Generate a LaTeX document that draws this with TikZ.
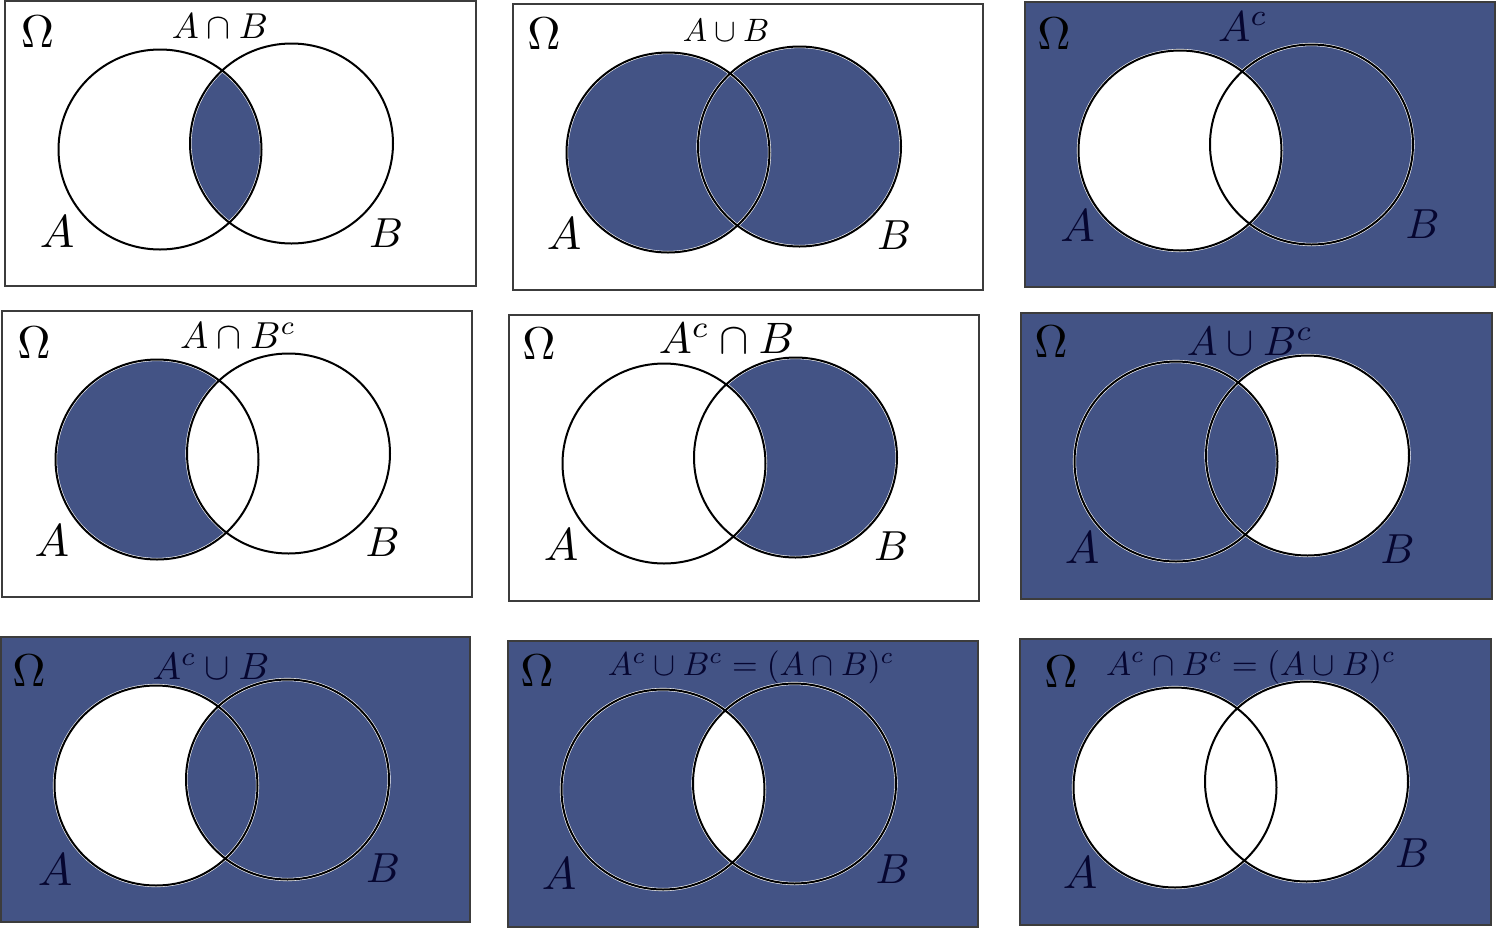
\documentclass[tikz,border=0pt]{standalone}
\usepackage{graphicx}
\definecolor{sh}{RGB}{67,83,133}
\definecolor{navy}{RGB}{6,6,48}
\definecolor{framec}{RGB}{60,60,60}
\newcommand\vsz[2]{\scalebox{#1}{#2}}
\newcommand\setA{(155,148.5) ellipse [x radius=101.5, y radius=100]}
\newcommand\setB{(286.5,142.5) ellipse [x radius=101.5, y radius=100]}
\tikzset{
  shade/.style={fill=sh},
  blank/.style={fill=white},
  halo/.style={draw=white, line width=1.6pt},
  ring/.style={draw=black, line width=1pt},
  frame/.style={draw=framec, line width=0.6pt},
  lbl/.style={anchor=base, inner sep=0pt, outer sep=0pt},
  om/.style={lbl, text=black},
}
\begin{document}
\begin{tikzpicture}[x=0.5pt, y=-0.5pt]
\useasboundingbox (0,0) rectangle (1496,928);
\fill[white] (0,0) rectangle (1496,928);

% ---------- Panel 1: A cap B ----------
\begin{scope}[shift={(5,1)}]
  \begin{scope}\clip \setA; \fill[shade] \setB; \end{scope}
  \draw[halo] \setA \setB; \draw[ring] \setA \setB;
  \draw[frame] (0,0) rectangle (471,285);
\end{scope}
\node[om] (om1) at (37.5,47) {\vsz{2.3}{$\Omega$}};
\node[lbl] (t1) at (220,38) {\vsz{1.8}{$A\cap B$}};
\node[lbl] (a1) at (57,247) {\vsz{2.3}{$A$}};
\node[lbl] (b1) at (386,247) {\vsz{2.1}{$B$}};

% ---------- Panel 2: A cup B ----------
\begin{scope}[shift={(513,4)}]
  \fill[shade] \setA; \fill[shade] \setB;
  \draw[halo] \setA \setB; \draw[ring] \setA \setB;
  \draw[frame] (0,0) rectangle (470,286);
\end{scope}
\node[om] (om2) at (544,49) {\vsz{2.3}{$\Omega$}};
\node[lbl] (t2) at (726,41) {\vsz{1.62}{$A\cup B$}};
\node[lbl] (a2) at (564,249) {\vsz{2.3}{$A$}};
\node[lbl] (b2) at (894,249) {\vsz{2.1}{$B$}};

% ---------- Panel 3: A^c ----------
\begin{scope}[shift={(1025,2)}]
  \fill[shade] (0,0) rectangle (470,285);
  \fill[blank] \setA;
  \draw[halo] \setA \setB; \draw[ring] \setA \setB;
  \draw[frame] (0,0) rectangle (470,285);
\end{scope}
\node[om] (om3) at (1054,49) {\vsz{2.3}{$\Omega$}};
\node[lbl, text=navy] (t3) at (1243,41) {\vsz{2.15}{$A^c$}};
\node[lbl, text=navy] (a3) at (1077.5,241) {\vsz{2.3}{$A$}};
\node[lbl, text=navy] (b3) at (1422.5,238) {\vsz{2.1}{$B$}};

% ---------- Panel 4: A cap B^c ----------
\begin{scope}[shift={(2,311)}]
  \fill[shade] \setA;
  \begin{scope}\clip \setA; \fill[blank] \setB; \end{scope}
  \draw[halo] \setA \setB; \draw[ring] \setA \setB;
  \draw[frame] (0,0) rectangle (470,286);
\end{scope}
\node[om] (om4) at (34,358) {\vsz{2.3}{$\Omega$}};
\node[lbl] (t4) at (238,348) {\vsz{1.88}{$A\cap B^c$}};
\node[lbl] (a4) at (52,556) {\vsz{2.3}{$A$}};
\node[lbl] (b4) at (382.5,556) {\vsz{2.1}{$B$}};

% ---------- Panel 5: A^c cap B ----------
\begin{scope}[shift={(509,315)}]
  \fill[shade] \setB;
  \begin{scope}\clip \setB; \fill[blank] \setA; \end{scope}
  \draw[halo] \setA \setB; \draw[ring] \setA \setB;
  \draw[frame] (0,0) rectangle (470,286);
\end{scope}
\node[om] (om5) at (539,359) {\vsz{2.3}{$\Omega$}};
\node[lbl] (t5) at (726.5,353) {\vsz{2.2}{$A^c\cap B$}};
\node[lbl] (a5) at (561,560) {\vsz{2.3}{$A$}};
\node[lbl] (b5) at (891,560) {\vsz{2.1}{$B$}};

% ---------- Panel 6: A cup B^c ----------
\begin{scope}[shift={(1021,313)}]
  \fill[shade] (0,0) rectangle (471,286);
  \fill[blank] \setB;
  \begin{scope}\clip \setB; \fill[shade] \setA; \end{scope}
  \draw[halo] \setA \setB; \draw[ring] \setA \setB;
  \draw[frame] (0,0) rectangle (471,286);
\end{scope}
\node[om] (om6) at (1051,357) {\vsz{2.3}{$\Omega$}};
\node[lbl, text=navy] (t6) at (1250,355) {\vsz{2.05}{$A\cup B^c$}};
\node[lbl, text=navy] (a6) at (1082,563) {\vsz{2.3}{$A$}};
\node[lbl, text=navy] (b6) at (1397.5,563) {\vsz{2.1}{$B$}};

% ---------- Panel 7: A^c cup B ----------
\begin{scope}[shift={(1,637)}]
  \fill[shade] (0,0) rectangle (469,285);
  \fill[blank] \setA;
  \begin{scope}\clip \setA; \fill[shade] \setB; \end{scope}
  \draw[halo] \setA \setB; \draw[ring] \setA \setB;
  \draw[frame] (0,0) rectangle (469,285);
\end{scope}
\node[om] (om7) at (29,686) {\vsz{2.3}{$\Omega$}};
\node[lbl, text=navy] (t7) at (211,679) {\vsz{1.9}{$A^c\cup B$}};
\node[lbl, text=navy] (a7) at (55,885) {\vsz{2.3}{$A$}};
\node[lbl, text=navy] (b7) at (383,882) {\vsz{2.1}{$B$}};

% ---------- Panel 8: A^c cup B^c = (A cap B)^c ----------
\begin{scope}[shift={(508,641)}]
  \fill[shade] (0,0) rectangle (470,286);
  \begin{scope}\clip \setA; \fill[blank] \setB; \end{scope}
  \draw[halo] \setA \setB; \draw[ring] \setA \setB;
  \draw[frame] (0,0) rectangle (470,286);
\end{scope}
\node[om] (om8) at (537,686) {\vsz{2.3}{$\Omega$}};
\node[lbl, text=navy] (t8) at (751,675) {\vsz{1.65}{$A^c\cup B^c=(A\cap B)^c$}};
\node[lbl, text=navy] (a8) at (559,889) {\vsz{2.3}{$A$}};
\node[lbl, text=navy] (b8) at (892.5,883) {\vsz{2.1}{$B$}};

% ---------- Panel 9: A^c cap B^c = (A cup B)^c ----------
\begin{scope}[shift={(1020,639)}]
  \fill[shade] (0,0) rectangle (471,286);
  \fill[blank] \setA; \fill[blank] \setB;
  \draw[halo] \setA \setB; \draw[ring] \setA \setB;
  \draw[frame] (0,0) rectangle (471,286);
\end{scope}
\node[om] (om9) at (1061,687) {\vsz{2.3}{$\Omega$}};
\node[lbl, text=navy] (t9) at (1251,675) {\vsz{1.67}{$A^c\cap B^c=(A\cup B)^c$}};
\node[lbl, text=navy] (a9) at (1080,888) {\vsz{2.3}{$A$}};
\node[lbl, text=navy] (b9) at (1412,867) {\vsz{2.1}{$B$}};
\end{tikzpicture}
\end{document}
